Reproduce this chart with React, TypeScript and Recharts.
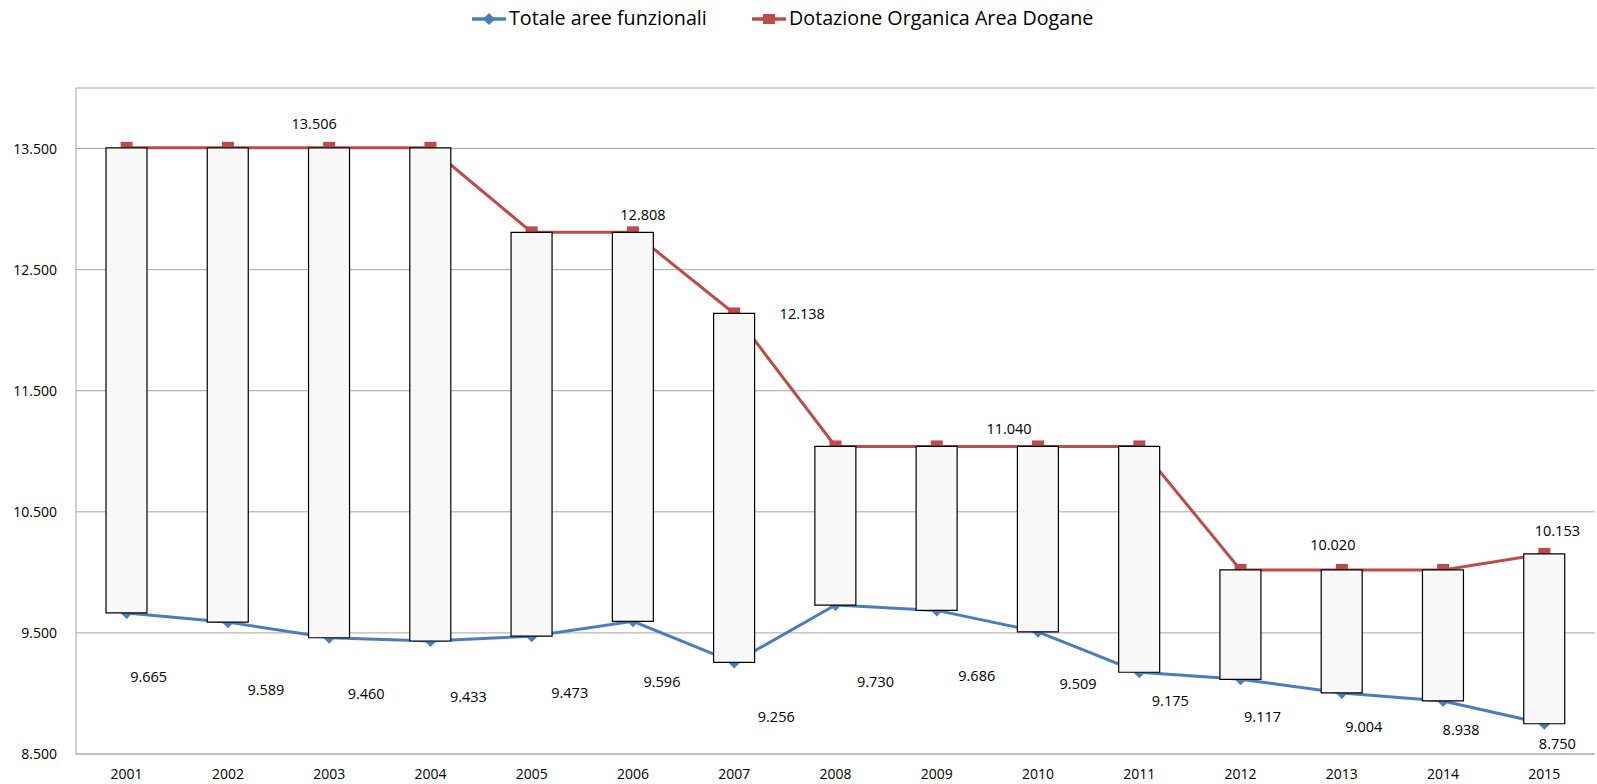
import {
  Bar,
  CartesianGrid,
  ComposedChart,
  LabelList,
  Line,
  XAxis,
  YAxis
} from "recharts";

const years = ["2001", "2002", "2003", "2004", "2005", "2006", "2007", "2008", "2009", "2010", "2011", "2012", "2013", "2014", "2015"];
const totaleAree = [9665, 9589, 9460, 9433, 9473, 9596, 9256, 9730, 9686, 9509, 9175, 9117, 9004, 8938, 8750];
const dotazione = [13506, 13506, 13506, 13506, 12808, 12808, 12138, 11040, 11040, 11040, 11040, 10020, 10020, 10020, 10153];
const yTicks = [8500, 9500, 10500, 11500, 12500, 13500];
const dotazioneLabelYears = ["2003", "2006", "2007", "2010", "2013", "2015"];

// where Excel put the data labels, relative to the point (dx, dy)
const blueLabelShift = [[22, 64], [38, 67], [37, 56], [38, 55], [38, 56], [29, 60], [42, 54], [40, 76], [40, 65], [40, 52], [31, 28], [22, 37], [22, 34], [18, 29], [13, 20]];
const redLabelShift: Record<string, number[]> = {
  "2003": [-15, -24],
  "2006": [10, -18],
  "2007": [68, 0],
  "2010": [-29, -18],
  "2013": [-9, -25],
  "2015": [13, -23]
};

const BLUE = "#4a7ebb";
const RED = "#be4b48";
const FONT = "'Open Sans', sans-serif";
const W = 1597;
const H = 784;
const MARGIN = { top: 88, right: 2, bottom: 0, left: 0 };

const fmt = (v: number) => String(v).replace(/\B(?=(\d{3})+(?!\d))/g, ".");

const data = years.map((year, i) => ({
  year,
  totale: totaleAree[i],
  dotazione: dotazione[i],
  range: [totaleAree[i], dotazione[i]]
}));

function Diamond(props: any) {
  const { cx, cy } = props;
  if (cx == null || cy == null) return <g key={props.index} />;
  const r = 6;
  return <path key={props.index} d={`M${cx},${cy - r}L${cx + r},${cy}L${cx},${cy + r}L${cx - r},${cy}Z`} fill={BLUE} />;
}

function Square(props: any) {
  const { cx, cy } = props;
  if (cx == null || cy == null) return <g key={props.index} />;
  return <rect key={props.index} x={cx - 6} y={cy - 6} width={12} height={12} fill={RED} />;
}

function BlueLabel(props: any) {
  const { x, y, index, value } = props;
  const [dx, dy] = blueLabelShift[index] ?? [30, 50];
  return (
    <text x={x + dx} y={y + dy} textAnchor="middle" dominantBaseline="central" fontSize={14.5} fontFamily={FONT} fill="#000">
      {fmt(value)}
    </text>
  );
}

function RedLabel(props: any) {
  const { x, y, index, value } = props;
  const year = years[index];
  if (!dotazioneLabelYears.includes(year)) return null;
  const [dx, dy] = redLabelShift[year];
  return (
    <text x={x + dx} y={y + dy} textAnchor="middle" dominantBaseline="central" fontSize={14.5} fontFamily={FONT} fill="#000">
      {fmt(value)}
    </text>
  );
}

function LegendItem({ color, label, left, marker }: { color: string; label: string; left: number; marker: "diamond" | "square" }) {
  return (
    <div style={{ position: "absolute", left, top: 4, height: 28, display: "flex", alignItems: "center", whiteSpace: "nowrap" }}>
      <svg width={36} height={28} style={{ display: "block", marginRight: 2 }}>
        <line x1={1} y1={15} x2={35} y2={15} stroke={color} strokeWidth={3.5} />
        {marker === "diamond" ? (
          <path d="M18,9L24,15L18,21L12,15Z" fill={color} />
        ) : (
          <rect x={12} y={10} width={12} height={10} fill={color} />
        )}
      </svg>
      <span style={{ fontFamily: FONT, fontSize: 19.7, color: "#000", lineHeight: "28px" }}>{label}</span>
    </div>
  );
}

export default function App() {
  return (
    <div style={{ position: "absolute", left: 0, top: 0, width: W, height: H, background: "#fff" }}>
      <LegendItem color={BLUE} label="Totale aree funzionali" left={471} marker="diamond" />
      <LegendItem color={RED} label="Dotazione Organica Area Dogane" left={751} marker="square" />
      {/* grid, axes, lines and labels */}
      <ComposedChart width={W} height={H} data={data} margin={MARGIN} style={{ position: "absolute", left: 0, top: 0 }}>
        <CartesianGrid vertical={false} stroke="#a6a6a6" />
        <XAxis
          dataKey="year"
          height={30}
          stroke="#a6a6a6"
          tickLine={false}
          tickSize={0}
          tickMargin={15}
          tick={{ fill: "#000", fontSize: 14, fontFamily: FONT }}
          interval={0}
        />
        <YAxis
          type="number"
          domain={[8500, 14000]}
          ticks={yTicks}
          width={76}
          stroke="#a6a6a6"
          tickLine={false}
          tickSize={0}
          tickMargin={19}
          tickFormatter={fmt}
          tick={{ fill: "#000", fontSize: 14, fontFamily: FONT }}
          interval={0}
        />
        <Bar dataKey="range" barSize={41} fill="none" isAnimationActive={false} />
        <Line
          dataKey="totale"
          stroke={BLUE}
          strokeWidth={3}
          dot={(p: any) => <Diamond key={p.index} {...p} />}
          activeDot={false}
          isAnimationActive={false}
        >
          <LabelList dataKey="totale" content={(p: any) => <BlueLabel {...p} />} />
        </Line>
        <Line
          dataKey="dotazione"
          stroke={RED}
          strokeWidth={3}
          dot={(p: any) => <Square key={p.index} {...p} />}
          activeDot={false}
          isAnimationActive={false}
        >
          <LabelList dataKey="dotazione" content={(p: any) => <RedLabel {...p} />} />
        </Line>
      </ComposedChart>
      {/* up-down boxes drawn on top of the lines, same scales */}
      <ComposedChart width={W} height={H} data={data} margin={MARGIN} style={{ position: "absolute", left: 0, top: 0 }}>
        <XAxis dataKey="year" height={30} axisLine={false} tickLine={false} tick={false} />
        <YAxis type="number" domain={[8500, 14000]} ticks={yTicks} width={76} axisLine={false} tickLine={false} tick={false} />
        <Bar
          dataKey="range"
          barSize={41}
          fill="#f8f8f8"
          stroke="#000"
          strokeWidth={1.2}
          isAnimationActive={false}
        />
      </ComposedChart>
    </div>
  );
}
